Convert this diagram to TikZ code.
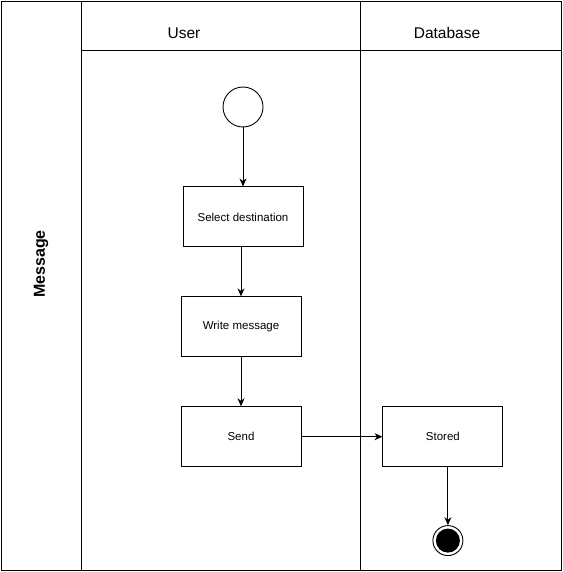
\documentclass[tikz,border=0pt]{standalone}
\usepackage{fontspec}
\setmainfont{Liberation Sans}
\usetikzlibrary{arrows.meta,positioning}

\begin{document}
\begin{tikzpicture}[x=1pt,y=-1pt,-{Stealth[length=8pt,width=7pt]},line width=0.9pt,node distance=49pt,
  actbox/.style={draw,rectangle,minimum width=120pt,minimum height=60pt,font=\fontsize{11.5}{13}\selectfont},
  lanetitle/.style={font=\fontsize{15.5}{18}\selectfont}]
\useasboundingbox (0,0) rectangle (562,572);

% pool and lanes
\draw[-] (1,1) rectangle (561,570);
\draw[-] (81,1) -- (81,570);
\draw[-] (360,1) -- (360,570);
\draw[-] (81,50) -- (561,50);
\node (pool) [rotate=90,font=\bfseries\fontsize{16}{18}\selectfont] at (41,264) {Message};
\node (user) [lanetitle] at (184,33) {User};
\node (db) [lanetitle] at (447,33) {Database};

% activities
\node (start) [circle,draw,minimum size=40pt] at (243,107) {};
\node (sel) [actbox,below=59pt of start] {Select destination};
\node (write) [actbox,below=49pt of sel,xshift=-2pt] {Write message};
\node (send) [actbox,below=49pt of write] {Send};
\node (stored) [actbox,right=81pt of send] {Stored};
\node (end) [circle,draw,minimum size=30pt,below=58pt of stored,xshift=5pt,
  path picture={\fill (path picture bounding box.center) circle (12pt);}] {};

\path
(start) edge (sel)
(sel.south -| write.north) edge (write.north)
(write) edge (send)
(send) edge (stored)
(stored.south -| end.north) edge (end.north);
\end{tikzpicture}
\end{document}
